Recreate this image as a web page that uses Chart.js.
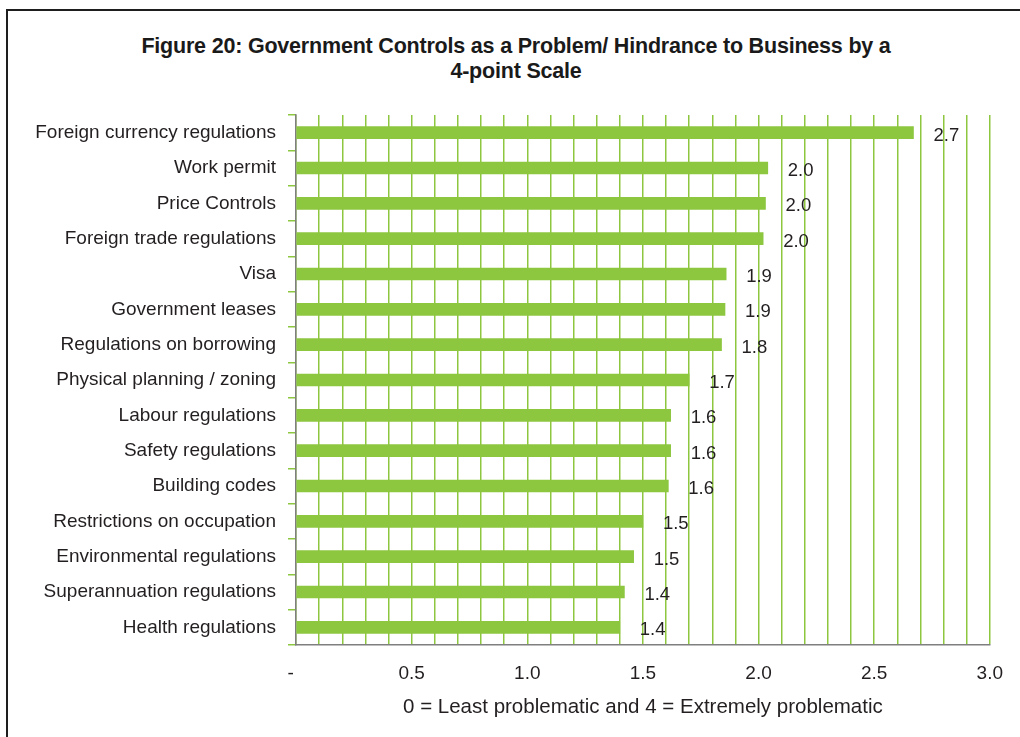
<!DOCTYPE html>
<html>
<head>
<meta charset="utf-8">
<script src="https://cdn.jsdelivr.net/npm/chart.js@4.4.1/dist/chart.umd.min.js"></script>
<style>
  body { margin: 0; background: #fff; }
  #wrap { position: relative; width: 1020px; height: 737px; overflow: hidden; }
  #frame {
    position: absolute; left: 6px; top: 9px; right: -4px; bottom: -4px;
    border-left: 2px solid #1e1e1e; border-top: 2px solid #1e1e1e;
  }
  #title {
    position: absolute; left: 0; top: 34px; width: 1032px;
    text-align: center; line-height: 25px;
    font: bold 21.5px 'Liberation Sans', Arial, sans-serif;
    color: #1a1a1a; letter-spacing: -0.2px;
  }
  canvas { position: absolute; left: 0; top: 0; }
</style>
</head>
<body>
<div id="wrap">
  <div id="frame"></div>
  <div id="title"></div>
  <canvas id="chart"></canvas>
</div>
<script>
  // categories, top to bottom
  const categories = [
    'Foreign currency regulations',
    'Work permit',
    'Price Controls',
    'Foreign trade regulations',
    'Visa',
    'Government leases',
    'Regulations on borrowing',
    'Physical planning / zoning',
    'Labour regulations',
    'Safety regulations',
    'Building codes',
    'Restrictions on occupation',
    'Environmental regulations',
    'Superannuation regulations',
    'Health regulations'
  ];

  // mean score (0 = least problematic, 4 = extremely problematic)
  const scores = [2.67, 2.04, 2.03, 2.02, 1.86, 1.855, 1.84, 1.70, 1.62, 1.62, 1.61, 1.50, 1.46, 1.42, 1.40];

  const titleLines = [
    'Figure 20: Government Controls as a Problem/ Hindrance to Business by a',
    '4-point Scale'
  ];
  const axisTitle = '0 = Least problematic and 4 = Extremely problematic';

  const green = '#8dc63f';
  const textFont = "'Liberation Sans', Arial, sans-serif";

  document.getElementById('title').innerHTML = titleLines.join('<br>');

  // value labels to the right of each bar
  const valueLabels = {
    id: 'valueLabels',
    afterDatasetsDraw(chart) {
      const ctx = chart.ctx;
      const meta = chart.getDatasetMeta(0);
      ctx.save();
      ctx.font = '18.5px ' + textFont;
      ctx.fillStyle = '#231f20';
      ctx.textAlign = 'left';
      ctx.textBaseline = 'middle';
      meta.data.forEach((bar, i) => {
        const v = chart.data.datasets[0].data[i];
        ctx.fillText(v.toFixed(1), bar.x + 20, bar.y + 3);
      });
      ctx.restore();
    }
  };

  new Chart(document.getElementById('chart'), {
    type: 'bar',
    data: {
      labels: categories,
      datasets: [{
        data: scores,
        backgroundColor: green,
        barThickness: 12
      }]
    },
    options: {
      indexAxis: 'y',
      responsive: true,
      maintainAspectRatio: false,
      animation: false,
      layout: { padding: { left: 0, right: 29, top: 115, bottom: 0 } },
      plugins: {
        legend: { display: false },
        tooltip: { enabled: false },
        title: { display: false }
      },
      scales: {
        x: {
          min: 0,
          max: 3,
          afterFit(scale) { scale.height = 92; },
          grid: { color: green, lineWidth: 1.5, drawTicks: false },
          border: { color: '#7f7f7f', width: 1.5 },
          ticks: {
            stepSize: 0.1,
            autoSkip: false,
            maxRotation: 0,
            padding: 17,
            color: '#231f20',
            font: { family: textFont, size: 19 },
            callback: function(value) {
              const t = Math.round(value * 10);
              if (t === 0) return '-  ';
              return t % 5 === 0 ? (t / 10).toFixed(1) : '';
            }
          },
          title: {
            display: true,
            text: axisTitle,
            color: '#231f20',
            font: { family: textFont, size: 20.5 },
            padding: { top: 0, bottom: 17 }
          }
        },
        y: {
          afterFit(scale) { scale.width = 296; },
          grid: { color: green, lineWidth: 1.5, drawOnChartArea: false, tickLength: 8 },
          border: { color: '#7f7f7f', width: 1.5 },
          ticks: {
            padding: 12,
            color: '#231f20',
            font: { family: textFont, size: 19 }
          }
        }
      }
    },
    plugins: [valueLabels]
  });
</script>
</body>
</html>
